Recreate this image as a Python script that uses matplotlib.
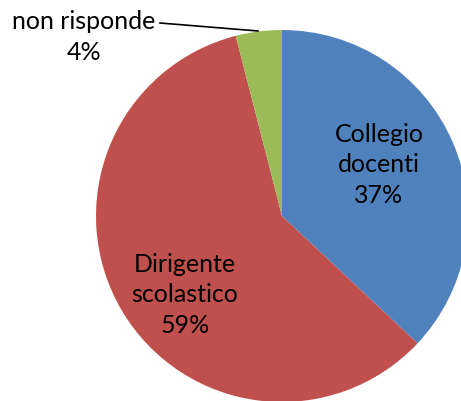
import matplotlib.pyplot as plt

labels = ["Collegio\ndocenti", "Dirigente\nscolastico", "non risponde"]
values = [37, 59, 4]
colors = ["#4F81BD", "#C0504D", "#9BBB59"]

W, H = 461, 401
fig = plt.figure(figsize=(W / 100, H / 100), dpi=100)
ax = fig.add_axes([0, 0, 1, 1])

cx, cy, r = 282, H - 216, 186
ax.pie(values, colors=colors, startangle=90, counterclock=False,
       center=(cx, cy), radius=r, frame=True)
ax.set_xlim(0, W)
ax.set_ylim(0, H)
ax.axis("off")

font = dict(family="Lato", fontsize=18, color="black", ha="center", va="center",
            linespacing=1.4)

# label positions in pixel coordinates (top-left origin)
ax.text(379, H - 165, f"{labels[0]}\n{values[0]}%", **font)
ax.text(185, H - 295, f"{labels[1]}\n{values[1]}%", **font)
ax.text(84, H - 37, f"{labels[2]}\n{values[2]}%", **font)
ax.plot([160, 258], [H - 23, H - 31], color="black", lw=1.2)

fig.savefig("out.png", dpi=100)
